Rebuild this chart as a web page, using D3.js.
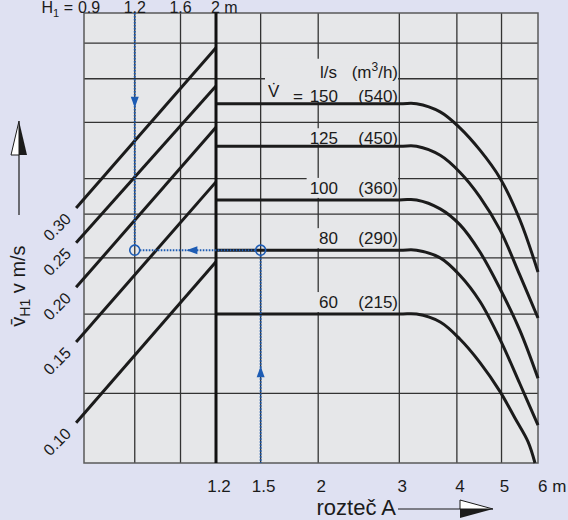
<!DOCTYPE html>
<html>
<head>
<meta charset="utf-8">
<script src="https://cdn.jsdelivr.net/npm/d3@7"></script>
<style>
  body { margin: 0; background: #dfe1f2; }
  svg { display: block; font-family: "Liberation Sans", Arial, sans-serif; }
</style>
</head>
<body>
<svg width="568" height="520"></svg>
<script>
// values
const spacingTicks = [1.2, 1.5, 2, 3, 4, 5, 6];          // rozteč A [m]
const heightTicks = [0.9, 1.2, 1.6, 2];                   // H1 [m]
const velocityGrid = [0.1, 0.15, 0.2, 0.25, 0.3, 0.4, 0.5, 0.6];

// diagonals v_H1 (left part), v at H1 = 0.83 m and at H1 = 2 m
const diagLabels = ["0.10", "0.15", "0.20", "0.25", "0.30"];
const diagH1 = [0.83, 2];
const diagStart = [0.086, 0.130, 0.172, 0.216, 0.258];
const diagEnd = [0.196, 0.295, 0.390, 0.482, 0.586];

// flow curves (right part): [A, v]
const flowLs = [150, 125, 100, 80, 60];
const flowM3h = [540, 450, 360, 290, 215];
const curve150 = [[1.2, 0.44], [3.0, 0.44], [3.27, 0.44], [3.68, 0.422], [4.06, 0.389], [4.49, 0.347], [4.96, 0.301], [5.48, 0.243], [6, 0.186]];
const curve125 = [[1.2, 0.354], [3.0, 0.354], [3.27, 0.354], [3.68, 0.338], [4.06, 0.310], [4.49, 0.273], [4.96, 0.231], [5.48, 0.183], [6, 0.147]];
const curve100 = [[1.2, 0.269], [3.0, 0.269], [3.27, 0.269], [3.68, 0.257], [4.06, 0.237], [4.49, 0.206], [4.96, 0.171], [5.48, 0.138], [6, 0.108]];
const curve80 = [[1.2, 0.208], [3.0, 0.208], [3.27, 0.208], [3.68, 0.200], [4.06, 0.183], [4.49, 0.160], [4.96, 0.132], [5.48, 0.105], [6, 0.085]];
const curve60 = [[1.2, 0.150], [3.0, 0.150], [3.27, 0.150], [3.68, 0.144], [4.06, 0.132], [4.49, 0.117], [4.96, 0.101], [5.35, 0.088], [5.71, 0.078], [5.91, 0.07]];
const curves = [curve150, curve125, curve100, curve80, curve60];

// worked example: A = 1.5 m, 80 l/s, H1 = 1.2 m
const exampleA = 1.5;
const exampleFlow = 3;
const exampleH1 = 1.2;

const svg = d3.select("svg");
const plot = { left: 84, right: 538, top: 13, bottom: 463 };
const INK = "#1b1b1b";
const GRID = "#333";
const BLUE = "#1d5cb4";
const PLOT_BG = "#e6e7e9";

const x = d3.scaleLog().domain([1.2, 6]).range([216, plot.right]);
const xH = d3.scaleLog().domain([0.9, 2]).range([89, 216]);
const y = d3.scaleLog().domain([0.07, 0.7]).range([plot.bottom, plot.top]);

svg.append("rect")
    .attr("x", plot.left).attr("y", plot.top)
    .attr("width", plot.right - plot.left).attr("height", plot.bottom - plot.top)
    .attr("fill", PLOT_BG);

// grid
const grid = svg.append("g").attr("stroke", GRID).attr("stroke-width", 1.3);
grid.selectAll(".hg").data(velocityGrid).enter().append("line")
    .attr("x1", plot.left).attr("x2", plot.right)
    .attr("y1", d => y(d)).attr("y2", d => y(d));
grid.selectAll(".vg").data(spacingTicks.slice(1, -1)).enter().append("line")
    .attr("x1", d => x(d)).attr("x2", d => x(d))
    .attr("y1", plot.top).attr("y2", plot.bottom);
grid.selectAll(".vh").data(heightTicks.slice(1, -1)).enter().append("line")
    .attr("x1", d => xH(d)).attr("x2", d => xH(d))
    .attr("y1", plot.top).attr("y2", plot.bottom);

svg.append("rect")
    .attr("x", plot.left).attr("y", plot.top)
    .attr("width", plot.right - plot.left).attr("height", plot.bottom - plot.top)
    .attr("fill", "none").attr("stroke", "#5a5a5a").attr("stroke-width", 1.5);

// flow labels, each on a patch of plot background that hides the grid
const labels = svg.append("g").attr("font-size", 17).attr("fill", INK);
flowLs.forEach((q, i) => {
    const yy = y(curves[i][0][1]);
    const g = labels.append("g");
    const base = i < 2 ? yy - 2 : yy - 6;
    if (i === 0) {
        g.append("text").attr("x", 337).attr("y", base - 24).attr("text-anchor", "end").text("l/s");
        const unit = g.append("text").attr("x", 398).attr("y", base - 24).attr("text-anchor", "end");
        unit.append("tspan").text("(m");
        unit.append("tspan").attr("dy", -7).attr("font-size", 12).text("3");
        unit.append("tspan").attr("dy", 7).text("/h)");
        g.append("text").attr("x", 268).attr("y", base - 5).text("V\u0307");
        g.append("text").attr("x", 293).attr("y", base).text("=");
    }
    g.append("text").attr("x", 338).attr("y", base).attr("text-anchor", "end").text(q);
    g.append("text").attr("x", 398).attr("y", base).attr("text-anchor", "end").text("(" + flowM3h[i] + ")");
    const bb = g.node().getBBox();
    const left = Math.max(bb.x - 3, x(1.5) + 2);
    g.insert("rect", "text")
        .attr("x", left).attr("y", bb.y - 1)
        .attr("width", 398 - left)
        .attr("height", yy - 2 - (bb.y - 1))
        .attr("fill", PLOT_BG);
});

// flow curves
const line = d3.line().x(d => x(d[0])).y(d => y(d[1])).curve(d3.curveCatmullRom.alpha(0.5));
svg.append("g").selectAll("path").data(curves).enter().append("path")
    .attr("d", line)
    .attr("fill", "none").attr("stroke", INK).attr("stroke-width", 3);

// v_H1 diagonals
svg.append("g").selectAll("line").data(diagLabels).enter().append("line")
    .attr("x1", xH(diagH1[0])).attr("y1", (d, i) => y(diagStart[i]))
    .attr("x2", xH(diagH1[1])).attr("y2", (d, i) => y(diagEnd[i]))
    .attr("stroke", INK).attr("stroke-width", 3);

svg.append("g").attr("font-size", 16).attr("fill", INK)
    .selectAll("text").data(diagLabels).enter().append("text")
    .attr("transform", (d, i) => `translate(${xH(diagH1[0]) - 19},${y(diagStart[i]) + 19}) rotate(-45)`)
    .attr("text-anchor", "middle").attr("dominant-baseline", "central")
    .text(d => d);

// divider between H1 part and A part
svg.append("line")
    .attr("x1", x(1.2)).attr("x2", x(1.2))
    .attr("y1", plot.top).attr("y2", plot.bottom)
    .attr("stroke", "#111").attr("stroke-width", 3);

// worked example in blue
const ey = y(curves[exampleFlow][0][1]);
const ex1 = xH(exampleH1), ex2 = x(exampleA);
const blue = svg.append("g").attr("stroke", BLUE).attr("stroke-width", 2)
    .attr("stroke-dasharray", "1.6,1.4").attr("fill", "none");
blue.append("line").attr("x1", ex1).attr("x2", ex1).attr("y1", plot.top).attr("y2", ey - 5);
blue.append("line").attr("x1", ex1 + 5).attr("x2", ex2 - 5).attr("y1", ey).attr("y2", ey);
blue.append("line").attr("x1", ex2).attr("x2", ex2).attr("y1", ey + 5).attr("y2", plot.bottom);
svg.selectAll(".ring").data([ex1, ex2]).enter().append("circle")
    .attr("cx", d => d).attr("cy", ey).attr("r", 5)
    .attr("fill", "none").attr("stroke", BLUE).attr("stroke-width", 1.6);

function arrowHead(tx, ty, angle) {
    svg.append("path")
        .attr("d", "M0,0 L-11,-4 L-11,4 Z")
        .attr("transform", `translate(${tx},${ty}) rotate(${angle})`)
        .attr("fill", BLUE);
}
arrowHead(ex1, plot.top + 0.4 * (ey - plot.top), 90);
arrowHead(ex2 - 0.59 * (ex2 - ex1), ey, 180);
arrowHead(ex2, plot.bottom - 0.455 * (plot.bottom - ey), -90);

// header H1 scale
const head = svg.append("g").attr("font-size", 16).attr("fill", INK);
const h1 = head.append("text").attr("x", 73).attr("y", 13).attr("text-anchor", "end");
h1.append("tspan").text("H");
h1.append("tspan").attr("dy", 4).attr("font-size", 11).text("1");
h1.append("tspan").attr("dy", -4).text(" =");
head.selectAll(".ht").data(heightTicks).enter().append("text")
    .attr("x", (d, i) => i === heightTicks.length - 1 ? xH(d) - 5 : xH(d))
    .attr("y", 13)
    .attr("text-anchor", (d, i) => i === heightTicks.length - 1 ? "start" : "middle")
    .text((d, i) => i === heightTicks.length - 1 ? d + " m" : d);

// bottom A scale
const foot = svg.append("g").attr("font-size", 17).attr("fill", INK);
foot.selectAll("text").data(spacingTicks).enter().append("text")
    .attr("x", (d, i) => i === spacingTicks.length - 1 ? x(d) : x(d) + 3)
    .attr("y", 492)
    .attr("text-anchor", (d, i) => i === spacingTicks.length - 1 ? "start" : "middle")
    .text((d, i) => i === spacingTicks.length - 1 ? d + " m" : d);

svg.append("text").attr("x", 396).attr("y", 515).attr("text-anchor", "end")
    .attr("font-size", 22).attr("fill", INK).text("rozteč A");
svg.append("line").attr("x1", 398).attr("x2", 462).attr("y1", 509).attr("y2", 509)
    .attr("stroke", INK).attr("stroke-width", 1.2);
svg.append("path").attr("d", "M460,500 L493,509 L460,509 Z")
    .attr("fill", "#fff").attr("stroke", INK).attr("stroke-width", 1);
svg.append("path").attr("d", "M460,509 L493,509 L460,518 Z").attr("fill", INK);

// y axis title with arrow
const yt = svg.append("text").attr("transform", "translate(25,286) rotate(-90)")
    .attr("text-anchor", "middle").attr("font-size", 20).attr("fill", INK);
yt.append("tspan").text("v\u0304");
yt.append("tspan").attr("dy", 5).attr("font-size", 14).text("H1");
yt.append("tspan").attr("dy", -5).text(" v m/s");
svg.append("line").attr("x1", 19).attr("x2", 19).attr("y1", 215).attr("y2", 150)
    .attr("stroke", INK).attr("stroke-width", 1.2);
svg.append("path").attr("d", "M19,121 L11,155 L19,155 Z")
    .attr("fill", "#fff").attr("stroke", INK).attr("stroke-width", 1);
svg.append("path").attr("d", "M19,121 L27,155 L19,155 Z").attr("fill", INK);
</script>
</body>
</html>
